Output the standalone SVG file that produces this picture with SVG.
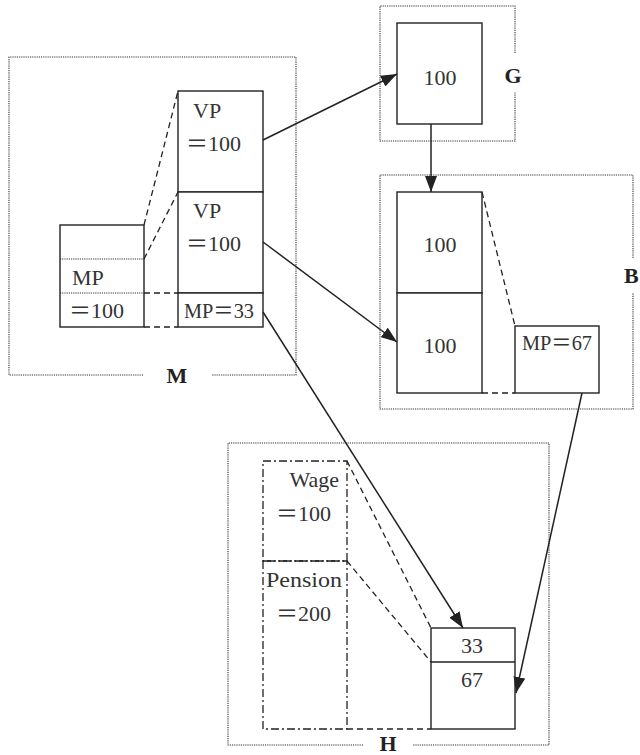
<svg xmlns="http://www.w3.org/2000/svg" width="640" height="755" viewBox="0 0 640 755">
<defs>
<style>
.frame{fill:none;stroke:#333;stroke-width:1.1;stroke-dasharray:1.2 1}
.box{fill:#fff;stroke:#222;stroke-width:1.4}
.dot{fill:none;stroke:#333;stroke-width:1;stroke-dasharray:1.2 1}
.dash{fill:none;stroke:#222;stroke-width:1.3;stroke-dasharray:6 4}
.dd{fill:none;stroke:#222;stroke-width:1.3;stroke-dasharray:8 3 2 3}
.arr{fill:none;stroke:#222;stroke-width:1.5;marker-end:url(#ah)}
.t{font-family:"Liberation Serif","Noto Sans CJK JP",serif;font-size:22px;fill:#333}
.lb{font-family:"Liberation Serif",serif;font-size:22px;font-weight:bold;fill:#222}
</style>
<marker id="ah" viewBox="0 0 16 12" refX="16" refY="6" markerWidth="16" markerHeight="12" markerUnits="userSpaceOnUse" orient="auto">
<path d="M0,0 L16,6 L0,12 Z" fill="#222"/>
</marker>
</defs>
<rect width="640" height="755" fill="#fff"/>

<g id="frameM">
<path class="frame" d="M143,375 H9 V57 H296 V375 H212"/>
<text class="lb" x="177" y="383" text-anchor="middle">M</text>
</g>
<g id="frameG">
<path class="frame" d="M515,53 V6 H380 V141 H515 V92"/>
<text class="lb" x="513" y="83" text-anchor="middle">G</text>
</g>
<g id="frameB">
<path class="frame" d="M633,258 V175 H380 V409 H633 V293"/>
<text class="lb" x="624" y="283">B</text>
</g>
<g id="frameH">
<path class="frame" d="M363,745 H228 V443 H549 V745 H413"/>
<text class="lb" x="388" y="751" text-anchor="middle">H</text>
</g>

<g id="M_MP">
<rect class="box" x="60" y="225" width="84" height="102"/>
<line class="dot" x1="60" y1="259" x2="144" y2="259"/>
<line class="dot" x1="60" y1="293" x2="144" y2="293"/>
<text class="t" x="72" y="285">MP</text>
<text class="t" x="69" y="318">＝100</text>
</g>
<g id="M_VP1">
<rect class="box" x="178" y="91" width="85" height="101"/>
<text class="t" x="193" y="118">VP</text>
<text class="t" x="186" y="151">＝100</text>
</g>
<g id="M_VP2">
<rect class="box" x="178" y="192" width="85" height="101"/>
<text class="t" x="193" y="218">VP</text>
<text class="t" x="186" y="251">＝100</text>
</g>
<g id="M_MP33">
<rect class="box" x="178" y="293" width="85" height="34"/>
<text class="t" x="184" y="318" textLength="70" lengthAdjust="spacingAndGlyphs">MP＝33</text>
</g>

<g id="G_100">
<rect class="box" x="397" y="23" width="85" height="101"/>
<text class="t" x="440" y="85" text-anchor="middle">100</text>
</g>

<g id="B_100a">
<rect class="box" x="397" y="192" width="85" height="101"/>
<text class="t" x="440" y="252" text-anchor="middle">100</text>
</g>
<g id="B_100b">
<rect class="box" x="397" y="293" width="85" height="100"/>
<text class="t" x="440" y="353" text-anchor="middle">100</text>
</g>
<g id="B_MP67">
<rect class="box" x="515" y="326" width="84" height="67"/>
<text class="t" x="522" y="350" textLength="70" lengthAdjust="spacingAndGlyphs">MP＝67</text>
</g>

<g id="H_wage">
<rect class="dd" x="263" y="461" width="84" height="100"/>
<text class="t" x="339" y="487" text-anchor="end">Wage</text>
<text class="t" x="276" y="521">＝100</text>
</g>
<g id="H_pension">
<rect class="dd" x="263" y="561" width="84" height="168"/>
<text class="t" x="266" y="587" textLength="76" lengthAdjust="spacingAndGlyphs">Pension</text>
<text class="t" x="276" y="621">＝200</text>
</g>
<g id="H_recv">
<rect class="box" x="431" y="628" width="84" height="101"/>
<line class="box" x1="431" y1="662" x2="515" y2="662"/>
<text class="t" x="472" y="653" text-anchor="middle">33</text>
<text class="t" x="472" y="687" text-anchor="middle">67</text>
</g>

<g id="links">
<line class="dash" x1="144" y1="225" x2="178" y2="91"/>
<line class="dash" x1="144" y1="259" x2="178" y2="192"/>
<line class="dash" x1="144" y1="293" x2="178" y2="293"/>
<line class="dash" x1="144" y1="327" x2="178" y2="327"/>
<line class="dash" x1="482" y1="192" x2="515" y2="326"/>
<line class="dash" x1="482" y1="393" x2="515" y2="393"/>
<line class="dash" x1="347" y1="461" x2="431" y2="628"/>
<line class="dash" x1="347" y1="561" x2="431" y2="662"/>
<line class="dash" x1="347" y1="729" x2="431" y2="729"/>
</g>

<g id="connectors">
<line class="arr" x1="263" y1="140" x2="397" y2="74"/>
<line class="arr" x1="431" y1="124" x2="431" y2="192"/>
<line class="arr" x1="263" y1="242" x2="397" y2="342"/>
<line class="arr" x1="263" y1="312" x2="463" y2="628"/>
<line class="arr" x1="582" y1="393" x2="516" y2="693"/>
</g>
</svg>
